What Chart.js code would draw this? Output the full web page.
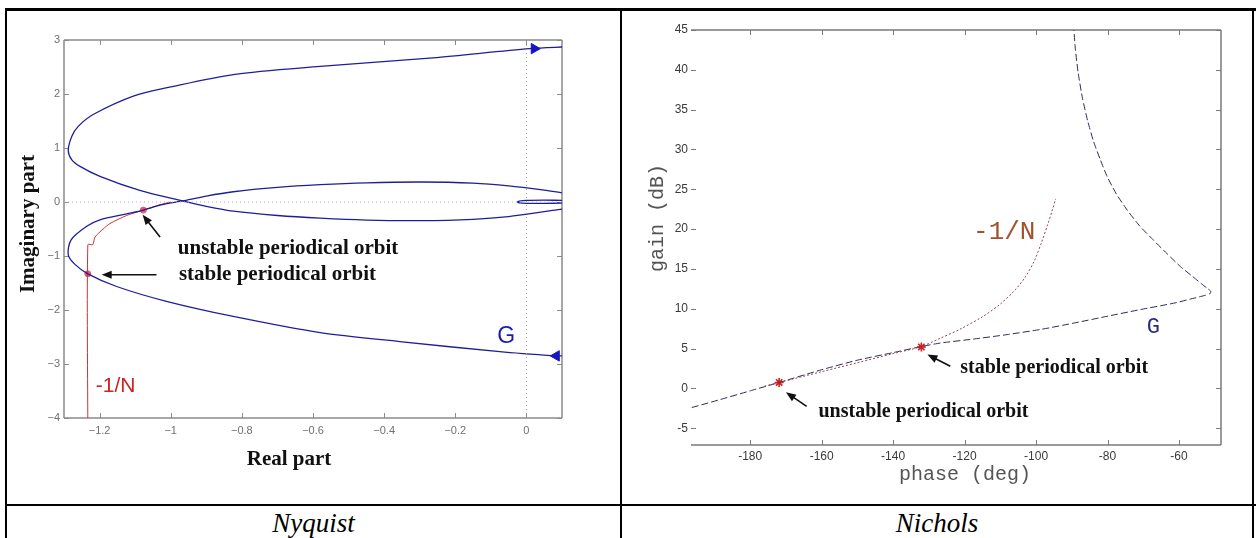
<!DOCTYPE html>
<html>
<head>
<meta charset="utf-8">
<script src="https://cdn.jsdelivr.net/npm/chart.js@4.4.1/dist/chart.umd.min.js"></script>
<style>
  body { margin: 0; background: #fff; }
  #page { position: relative; width: 1256px; height: 538px; overflow: hidden; background: #fff; }
  .rule { position: absolute; background: #000; }
  canvas { position: absolute; }
  .caption { position: absolute; top: 505px; height: 33px; line-height: 36px; text-align: center;
             font-family: "Liberation Serif", "Times New Roman", serif; font-style: italic; font-size: 27px; color: #000; }
</style>
</head>
<body>
<div id="page">
  <div class="rule" style="left:5px; top:8px; width:1251px; height:3px;"></div>
  <div class="rule" style="left:5px; top:8px; width:2px; height:530px;"></div>
  <div class="rule" style="left:620px; top:8px; width:2px; height:530px;"></div>
  <div class="rule" style="left:1252px; top:8px; width:2px; height:530px;"></div>
  <div class="rule" style="left:5px; top:504px; width:1251px; height:2px;"></div>
  <canvas id="nyquist" width="620" height="504" style="left:0; top:0;"></canvas>
  <canvas id="nichols" width="632" height="504" style="left:622px; top:0;"></canvas>
  <div class="caption" style="left:7px; width:613px;">Nyquist</div>
  <div class="caption" style="left:622px; width:630px;">Nichols</div>
</div>
<script>
// ---------- Nyquist data (real part / imaginary part) ----------
// G, positive frequency branch: upper outer arc, then the lower inner arc
const gPosRe = [0.15, 0.1, 0.009, -0.263, -0.58, -0.824, -1.0, -1.105, -1.218, -1.26, -1.278, -1.288, -1.278, -1.255, -1.199, -1.087, -0.967, -0.9, -0.824, -0.7, -0.58, -0.45, -0.3, -0.15, -0.05, 0.05, 0.1, 0.15];
const gPosIm = [2.88, 2.87, 2.84, 2.67, 2.51, 2.36, 2.13, 1.96, 1.62, 1.4, 1.216, 0.95, 0.78, 0.66, 0.475, 0.215, 0.02, -0.08, -0.17, -0.25, -0.30, -0.335, -0.345, -0.32, -0.27, -0.18, -0.13, -0.09];
// G, negative frequency branch: lower outer arc, then the upper inner arc
const gNegRe = [0.15, 0.1, 0.084, -0.075, -0.356, -0.58, -0.824, -1.012, -1.152, -1.233, -1.27, -1.288, -1.28, -1.236, -1.199, -1.124, -1.077, -1.03, -0.967, -0.9, -0.824, -0.7, -0.58, -0.45, -0.3, -0.15, -0.05, 0.05, 0.1, 0.15];
const gNegIm = [-2.86, -2.85, -2.85, -2.77, -2.585, -2.42, -2.12, -1.84, -1.565, -1.33, -1.15, -0.98, -0.70, -0.45, -0.33, -0.22, -0.15, -0.06, 0.02, 0.11, 0.19, 0.27, 0.32, 0.355, 0.37, 0.35, 0.30, 0.22, 0.17, 0.12];
// G, small loop round the origin
const gLoopRe = [0.15, 0.1, 0.05, 0.0, -0.02, -0.025, -0.02, 0.0, 0.05, 0.1, 0.15];
const gLoopIm = [0.03, 0.03, 0.035, 0.03, 0.015, 0.0, -0.015, -0.025, -0.025, -0.02, -0.015];
// -1/N locus
const nRe = [-1.233, -1.233, -1.219, -1.213, -1.19, -1.171, -1.124, -1.077, -1.03, -1.0];
const nIm = [-4.3, -0.79, -0.79, -0.65, -0.5, -0.40, -0.25, -0.15, -0.05, 0.0];
// periodical orbits (unstable, stable)
const orbitRe = [-1.077, -1.233];
const orbitIm = [-0.15, -1.33];
// direction arrows on G
const dirRe = [0.022, 0.084];
const dirIm = [2.84, -2.85];
const dirRot = [90, -90];
// axes
const nyqXTicks = [-1.2, -1, -0.8, -0.6, -0.4, -0.2, 0];
const nyqYTicks = [3, 2, 1, 0, -1, -2, -3, -4];

// ---------- Nichols data (phase deg / gain dB) ----------
const gPhase = [-89.6, -89.4, -89.0, -88.2, -87.0, -85.5, -83.9, -82.0, -80.1, -77.5, -74.5, -71.0, -67.1, -63.3, -59.6, -56.3, -53.6, -52.0, -51.1, -51.3, -53.0, -57.0, -61.5, -70.8, -80.1, -89.5, -98.8, -108.1, -117.5, -126.8, -132.2, -140, -150, -160, -171.9, -180, -190, -198];
const gGain = [47, 45, 42.6, 39.6, 36.4, 33.5, 31.0, 28.7, 26.6, 24.4, 22.4, 20.4, 18.6, 16.9, 15.3, 14.1, 13.1, 12.55, 12.2, 11.9, 11.65, 11.2, 10.7, 9.9, 9.06, 8.2, 7.4, 6.76, 6.2, 5.7, 5.25, 4.5, 3.55, 2.35, 0.75, -0.3, -1.6, -2.6];
const nPhase = [-176, -171.9, -160, -150, -140, -132.2, -126.8, -121, -115, -110, -106, -103, -100.5, -98.5, -96.8, -95.5, -94.5];
const nGain = [0.28, 0.75, 2.1, 3.23, 4.37, 5.25, 6.3, 7.5, 9.0, 10.6, 12.3, 14.0, 16.0, 18.3, 20.5, 22.3, 23.8];
const orbitPhase = [-171.9, -132.1];
const orbitGain = [0.75, 5.21];
const nicXTicks = [-180, -160, -140, -120, -100, -80, -60];
const nicYTicks = [45, 40, 35, 30, 25, 20, 15, 10, 5, 0, -5];

Chart.defaults.animation = false;
Chart.defaults.font.family = '"Liberation Sans", Arial, sans-serif';

function pts(xs, ys) {
    return xs.map(function(v, i) { return { x: v, y: ys[i] }; });
}

// linear axis with fixed tick list and a fixed thickness
function axis(min, max, ticks, size, font, color, pad, fmt) {
    return {
        type: 'linear',
        min: min,
        max: max,
        grid: { display: false, drawTicks: false },
        border: { display: false },
        afterBuildTicks: function(s) { s.ticks = ticks.map(function(v) { return { value: v }; }); },
        afterFit: function(s) {
            if (s.isHorizontal()) s.height = size; else s.width = size;
        },
        ticks: { font: font, color: color, padding: pad, autoSkip: false, maxRotation: 0, callback: fmt }
    };
}

// frame, inner tick marks, notes, arrows and axis titles
function decor(cfg) {
    return {
        id: 'decor',
        beforeDatasetsDraw: function(chart) {
            const ctx = chart.ctx, a = chart.chartArea, x = chart.scales.x, y = chart.scales.y;
            ctx.save();
            ctx.strokeStyle = cfg.frameColor;
            ctx.lineWidth = cfg.frameWidth;
            ctx.beginPath();
            if (cfg.sides.top) { ctx.moveTo(a.left, a.top); ctx.lineTo(a.right, a.top); }
            if (cfg.sides.bottom) { ctx.moveTo(a.left, a.bottom); ctx.lineTo(a.right, a.bottom); }
            if (cfg.sides.left) { ctx.moveTo(a.left, a.top); ctx.lineTo(a.left, a.bottom); }
            if (cfg.sides.right) { ctx.moveTo(a.right, a.top); ctx.lineTo(a.right, a.bottom); }
            ctx.stroke();
            ctx.strokeStyle = cfg.tickColor;
            ctx.lineWidth = 1;
            ctx.beginPath();
            x.ticks.forEach(function(t) {
                const px = Math.round(x.getPixelForValue(t.value)) + 0.5;
                ctx.moveTo(px, a.bottom); ctx.lineTo(px, a.bottom - cfg.tickLen);
                ctx.moveTo(px, a.top); ctx.lineTo(px, a.top + cfg.tickLen);
            });
            y.ticks.forEach(function(t) {
                const py = Math.round(y.getPixelForValue(t.value)) + 0.5;
                ctx.moveTo(a.left, py); ctx.lineTo(a.left + cfg.tickLen, py);
                ctx.moveTo(a.right, py); ctx.lineTo(a.right - cfg.tickLen, py);
            });
            ctx.stroke();
            ctx.restore();
        },
        afterDatasetsDraw: function(chart) {
            const ctx = chart.ctx, x = chart.scales.x, y = chart.scales.y;
            ctx.save();
            // arrows pointing at the orbits
            cfg.arrows.forEach(function(ar) {
                const x1 = x.getPixelForValue(ar[0]), y1 = y.getPixelForValue(ar[1]);
                const x2 = x.getPixelForValue(ar[2]), y2 = y.getPixelForValue(ar[3]);
                const ang = Math.atan2(y2 - y1, x2 - x1);
                ctx.strokeStyle = '#111';
                ctx.fillStyle = '#111';
                ctx.lineWidth = 1.6;
                ctx.beginPath();
                ctx.moveTo(x1, y1);
                ctx.lineTo(x2 - 6 * Math.cos(ang), y2 - 6 * Math.sin(ang));
                ctx.stroke();
                ctx.beginPath();
                ctx.moveTo(x2, y2);
                ctx.lineTo(x2 - 10 * Math.cos(ang) + 4 * Math.sin(ang), y2 - 10 * Math.sin(ang) - 4 * Math.cos(ang));
                ctx.lineTo(x2 - 10 * Math.cos(ang) - 4 * Math.sin(ang), y2 - 10 * Math.sin(ang) + 4 * Math.cos(ang));
                ctx.closePath();
                ctx.fill();
            });
            // notes placed in data coordinates
            ctx.textBaseline = 'middle';
            cfg.notes.forEach(function(n) {
                ctx.font = n.font;
                ctx.fillStyle = n.color;
                ctx.textAlign = n.align;
                ctx.fillText(n.text, x.getPixelForValue(n.x), y.getPixelForValue(n.y));
            });
            // axis titles placed in canvas pixels
            cfg.titles.forEach(function(t) {
                ctx.save();
                ctx.translate(t.px, t.py);
                ctx.rotate(t.rot * Math.PI / 180);
                ctx.font = t.font;
                ctx.fillStyle = t.color;
                ctx.textAlign = 'center';
                ctx.fillText(t.text, 0, 0);
                ctx.restore();
            });
            ctx.restore();
        }
    };
}

const minus = function(v) { return String(v).replace('-', '\u2212'); };
const plain = function(v) { return String(v); };

// ---------- Nyquist chart ----------
const nyqFont = { size: 11 };
new Chart(document.getElementById('nyquist'), {
    type: 'scatter',
    data: {
        datasets: [
            { data: pts([0, 0], [-4, 3]), showLine: true, borderColor: '#9a9a9a', borderWidth: 1, borderDash: [1, 3], pointRadius: 0 },
            { data: pts([-1.3, 0.1], [0, 0]), showLine: true, borderColor: '#b5b5b5', borderWidth: 1, borderDash: [1, 3], pointRadius: 0 },
            { data: pts(gPosRe, gPosIm), showLine: true, borderColor: '#1e1e9a', borderWidth: 1.3, pointRadius: 0, tension: 0.3 },
            { data: pts(gNegRe, gNegIm), showLine: true, borderColor: '#1e1e9a', borderWidth: 1.3, pointRadius: 0, tension: 0.3 },
            { data: pts(gLoopRe, gLoopIm), showLine: true, borderColor: '#1e1e9a', borderWidth: 1.3, pointRadius: 0, tension: 0.3 },
            { data: pts(nRe, nIm), showLine: true, borderColor: '#cc3333', borderWidth: 1, pointRadius: 0, tension: 0.25 },
            { data: pts(orbitRe, orbitIm), pointRadius: 3, pointBackgroundColor: '#e8566a', pointBorderColor: '#e8566a' },
            { data: pts(dirRe, dirIm), pointStyle: 'triangle', rotation: dirRot, pointRadius: 6, pointBackgroundColor: '#1414cc', pointBorderColor: '#1414cc' }
        ]
    },
    options: {
        responsive: false,
        devicePixelRatio: 1,
        layout: { padding: { left: 14, right: 58, top: 40, bottom: 56 } },
        plugins: { legend: { display: false }, tooltip: { enabled: false } },
        scales: {
            x: axis(-1.3, 0.1, nyqXTicks, 30, nyqFont, '#707070', 6, minus),
            y: axis(-4, 3, nyqYTicks, 50, nyqFont, '#707070', 4, minus)
        }
    },
    plugins: [decor({
        sides: { top: true, right: true, bottom: true, left: true },
        frameColor: '#8a8a8a', frameWidth: 1.5, tickColor: '#8a8a8a', tickLen: 5,
        arrows: [[-1.03, -0.65, -1.079, -0.236], [-1.04, -1.348, -1.194, -1.348]],
        notes: [
            { text: 'unstable periodical orbit', x: -0.98, y: -0.87, align: 'left', color: '#111', font: 'bold 21px "Liberation Serif", serif' },
            { text: 'stable periodical orbit', x: -0.977, y: -1.35, align: 'left', color: '#111', font: 'bold 21px "Liberation Serif", serif' },
            { text: '-1/N', x: -1.155, y: -3.41, align: 'center', color: '#cc2222', font: '21px "Liberation Sans", sans-serif' },
            { text: 'G', x: -0.057, y: -2.5, align: 'center', color: '#1a1ab0', font: '23px "Liberation Sans", sans-serif' }
        ],
        titles: [
            { text: 'Imaginary part', px: 29, py: 224, rot: -90, color: '#111', font: 'bold 21px "Liberation Serif", serif' },
            { text: 'Real part', px: 289, py: 460, rot: 0, color: '#111', font: 'bold 21px "Liberation Serif", serif' }
        ]
    })]
});

// ---------- Nichols chart ----------
const nicFont = { size: 12 };
new Chart(document.getElementById('nichols'), {
    type: 'scatter',
    data: {
        datasets: [
            { data: pts(nPhase, nGain), showLine: true, borderColor: '#8a4656', borderWidth: 1, borderDash: [2, 2], pointRadius: 0, tension: 0.3 },
            { data: pts(gPhase, gGain), showLine: true, borderColor: '#2c2c58', borderWidth: 1, borderDash: [7, 3], pointRadius: 0, tension: 0.2 },
            { data: pts(orbitPhase, orbitGain), pointStyle: 'star', pointRadius: 4.5, borderWidth: 1.6, pointBorderColor: '#d42020', pointBackgroundColor: '#d42020' }
        ]
    },
    options: {
        responsive: false,
        devicePixelRatio: 1,
        layout: { padding: { left: 24, right: 33, top: 30, bottom: 34 } },
        plugins: { legend: { display: false }, tooltip: { enabled: false } },
        scales: {
            x: axis(-196.57, -48.24, nicXTicks, 25, nicFont, '#3a3a3a', 4, plain),
            y: axis(-7.1, 45, nicYTicks, 45, nicFont, '#3a3a3a', 3, plain)
        }
    },
    plugins: [decor({
        sides: { top: true, right: true, bottom: true, left: false },
        frameColor: '#7a7a7a', frameWidth: 1.5, tickColor: '#7a7a7a', tickLen: 5,
        arrows: [[-124.0, 2.78, -130.4, 4.25], [-164.2, -2.25, -170.0, -0.49]],
        notes: [
            { text: 'stable periodical orbit', x: -121.2, y: 2.55, align: 'left', color: '#111', font: 'bold 20px "Liberation Serif", serif' },
            { text: 'unstable periodical orbit', x: -160.9, y: -2.9, align: 'left', color: '#111', font: 'bold 20px "Liberation Serif", serif' },
            { text: '-1/N', x: -108.9, y: 19.6, align: 'center', color: '#a0522d', font: '26px "Liberation Mono", monospace' },
            { text: 'G', x: -67.2, y: 7.7, align: 'center', color: '#2a2a80', font: '22px "Liberation Mono", monospace' }
        ],
        titles: [
            { text: 'gain (dB)', px: 36, py: 218, rot: -90, color: '#555', font: '20px "Liberation Mono", monospace' },
            { text: 'phase (deg)', px: 343, py: 475, rot: 0, color: '#555', font: '20px "Liberation Mono", monospace' }
        ]
    })]
});
</script>
</body>
</html>
